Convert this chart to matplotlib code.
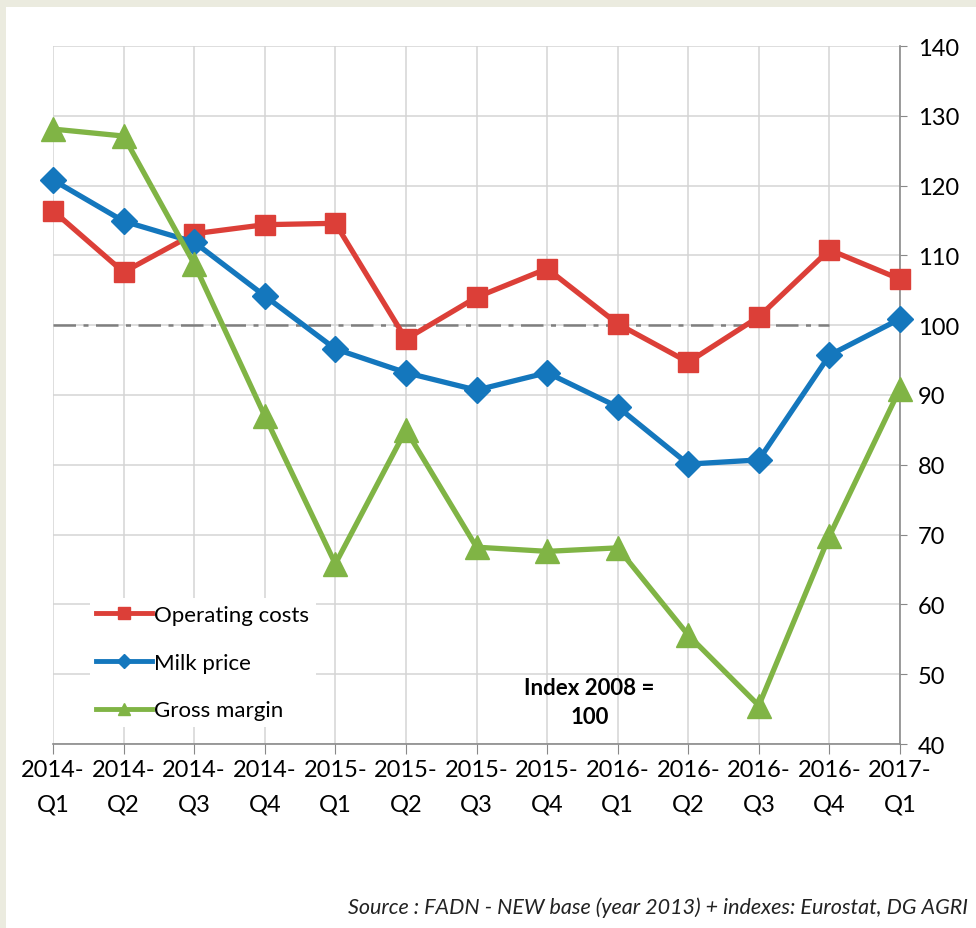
import matplotlib.pyplot as plt
from matplotlib.patches import Rectangle

# quarters on the x axis
quarters = ["2014-\nQ1", "2014-\nQ2", "2014-\nQ3", "2014-\nQ4",
            "2015-\nQ1", "2015-\nQ2", "2015-\nQ3", "2015-\nQ4",
            "2016-\nQ1", "2016-\nQ2", "2016-\nQ3", "2016-\nQ4",
            "2017-\nQ1"]

operating_costs = [116.4, 107.6, 113.1, 114.4, 114.6, 98.0, 104.0,
                   108.1, 100.2, 94.7, 101.2, 110.8, 106.6]
milk_price = [120.8, 114.9, 111.9, 104.2, 96.6, 93.2, 90.7,
              93.2, 88.3, 80.1, 80.7, 95.7, 100.9]
gross_margin = [128.1, 127.1, 108.8, 87.0, 65.8, 85.0, 68.2,
                67.6, 68.1, 55.6, 45.5, 69.8, 90.9]
# index line (2008 = 100), drawn up to 2016-Q4
index_base = [100] * 12

y_ticks = [40, 50, 60, 70, 80, 90, 100, 110, 120, 130, 140]

RED = "#dc3f38"
BLUE = "#1477bd"
GREEN = "#80b445"

plt.rcParams['font.family'] = ['Lato', 'DejaVu Sans']

fig = plt.figure(figsize=(9.76, 9.29), dpi=100)
fig.patch.set_facecolor("#ebebdf")
fig.add_artist(Rectangle((6 / 976, 0), 1, 1 - 8 / 929, transform=fig.transFigure,
                         facecolor="white", edgecolor="none", zorder=0))

ax = fig.add_axes([53 / 976, 184 / 929, 847 / 976, 698 / 929])
ax.set_facecolor("none")

x = list(range(len(quarters)))

ax.plot(range(len(index_base)), index_base, color="#7f7f7f", lw=1.8,
        dashes=[9, 3, 2, 3], zorder=2)
ax.plot(x, operating_costs, color=RED, lw=3.8, marker="s", ms=15,
        label="Operating costs", zorder=3, clip_on=False)
ax.plot(x, milk_price, color=BLUE, lw=3.8, marker="D", ms=13,
        label="Milk price", zorder=4, clip_on=False)
ax.plot(x, gross_margin, color=GREEN, lw=3.8, marker="^", ms=17,
        label="Gross margin", zorder=5, clip_on=False)

ax.set_xlim(0, len(quarters) - 1)
ax.set_ylim(40, 140)
ax.set_yticks(y_ticks)
ax.set_xticks(x)
ax.set_xticklabels(quarters, fontsize=17, linespacing=1.75)
ax.yaxis.tick_right()
ax.tick_params(axis="y", labelsize=17, length=5, color="#888888", pad=8)
ax.tick_params(axis="x", length=7, color="#888888", pad=4)

ax.grid(True, color="#d4d4d4", lw=1.1)
ax.set_axisbelow(True)
for side in ["top", "left"]:
    ax.spines[side].set_visible(False)
for side in ["bottom", "right"]:
    ax.spines[side].set_color("#8a8a8a")
    ax.spines[side].set_linewidth(1.2)

leg = ax.legend(loc="upper left", bbox_to_anchor=(0.03, 0.225), frameon=True,
                fontsize=16, handlelength=2.5, handletextpad=0.1,
                labelspacing=1.25, borderpad=0.3, markerscale=0.55)
leg.get_frame().set_facecolor("white")
leg.get_frame().set_edgecolor("none")
leg.get_frame().set_alpha(1)
for h in leg.get_lines():
    h.set_linewidth(3.5)

ax.text(7.6, 46.0, "Index 2008 =\n100", fontsize=16, fontweight="bold",
        ha="center", va="center", linespacing=1.5)

fig.text(968 / 976, 1 - 908 / 929,
         "Source : FADN - NEW base (year 2013) + indexes: Eurostat, DG AGRI",
         ha="right", va="center", fontsize=15.5, style="italic", color="#222222")

fig.savefig("out.png", dpi=100, facecolor=fig.get_facecolor())
